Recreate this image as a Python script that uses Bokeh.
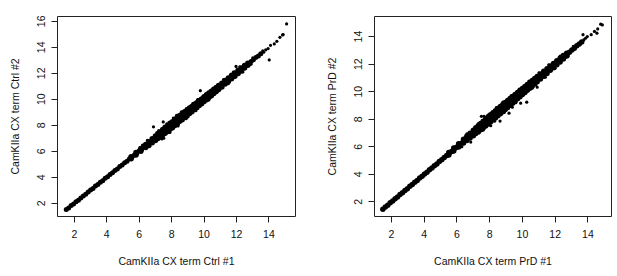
from bokeh.plotting import figure
from bokeh.layouts import row
from bokeh.models import Range1d, FixedTicker
from bokeh.embed import file_html
from bokeh.resources import INLINE

# ---------------- data ----------------
x_ticks_left = [2, 4, 6, 8, 10, 12, 14]
y_ticks_left = [2, 4, 6, 8, 10, 12, 14, 16]
x_ticks_right = [2, 4, 6, 8, 10, 12, 14]
y_ticks_right = [2, 4, 6, 8, 10, 12, 14]

xlabel_left = "CamKIIa CX term Ctrl #1"
ylabel_left = "CamKIIa CX term Ctrl #2"
xlabel_right = "CamKIIa CX term PrD #1"
ylabel_right = "CamKIIa CX term PrD #2"

# left panel: dense core of the cloud
ctrl_core_x = [1.50, 1.65, 1.80, 1.95, 2.10, 2.25, 2.40, 2.55, 2.70, 2.85, 3.00, 3.15, 3.30, 3.45, 3.60,
               3.75, 3.90, 4.05, 4.20, 4.35, 4.50, 4.65, 4.80, 4.95, 5.10, 5.25, 5.40, 5.55, 5.70, 5.85,
               6.00, 6.15, 6.30, 6.45, 6.60, 6.75, 6.90, 7.05, 7.20, 7.35, 7.50, 7.65, 7.80, 7.95, 8.10,
               8.25, 8.40, 8.55, 8.70, 8.85, 9.00, 9.15, 9.30, 9.45, 9.60, 9.75, 9.90, 10.05, 10.20, 10.35,
               10.50, 10.65, 10.80, 10.95, 11.10, 11.25, 11.40, 11.55, 11.70, 11.85, 12.00, 12.15, 12.30,
               12.45, 12.60, 12.75, 12.90, 13.05, 13.20, 13.35, 13.50]
ctrl_core_y = [1.52, 1.63, 1.82, 1.94, 2.12, 2.24, 2.41, 2.56, 2.69, 2.87, 3.01, 3.14, 3.32, 3.44, 3.62,
               3.74, 3.92, 4.04, 4.22, 4.34, 4.52, 4.63, 4.82, 4.94, 5.12, 5.23, 5.42, 5.54, 5.72, 5.83,
               6.03, 6.13, 6.32, 6.44, 6.63, 6.73, 6.93, 7.03, 7.23, 7.33, 7.53, 7.62, 7.84, 7.93, 8.13,
               8.22, 8.43, 8.53, 8.74, 8.83, 9.03, 9.12, 9.33, 9.43, 9.64, 9.73, 9.93, 10.03, 10.23, 10.33,
               10.53, 10.63, 10.82, 10.94, 11.12, 11.24, 11.42, 11.54, 11.72, 11.84, 12.02, 12.14, 12.32,
               12.44, 12.62, 12.74, 12.91, 13.04, 13.21, 13.34, 13.51]
# left panel: spread of the cloud around the diagonal
ctrl_spread_x = [5.5, 5.5, 5.8, 5.8, 6.1, 6.1, 6.4, 6.4, 6.6, 6.6, 6.8, 6.8, 7.0, 7.0, 7.15, 7.15,
                 7.3, 7.3, 7.45, 7.45, 7.6, 7.6, 7.75, 7.75, 7.9, 7.9, 8.05, 8.05, 8.2, 8.2, 8.35, 8.35,
                 8.5, 8.5, 8.65, 8.65, 8.8, 8.8, 8.95, 8.95, 9.1, 9.1, 9.25, 9.25, 9.4, 9.4, 9.55, 9.55,
                 9.7, 9.7, 9.85, 9.85, 10.0, 10.0, 10.15, 10.15, 10.3, 10.3, 10.45, 10.45, 10.6, 10.6,
                 10.75, 10.75, 10.9, 10.9, 11.1, 11.1, 11.3, 11.3, 11.5, 11.5, 11.7, 11.7, 11.9, 11.9,
                 12.1, 12.1, 12.3, 12.3, 12.5, 12.5, 12.7, 12.7]
ctrl_spread_y = [5.58, 5.42, 5.90, 5.71, 6.21, 6.00, 6.53, 6.28, 6.74, 6.45, 6.97, 6.66, 7.18, 6.83, 7.37, 6.99,
                 7.49, 7.10, 7.68, 7.27, 7.84, 7.39, 7.96, 7.53, 8.15, 7.70, 8.28, 7.81, 8.46, 7.99, 8.57, 8.12,
                 8.75, 8.30, 8.88, 8.43, 9.04, 8.59, 9.16, 8.72, 9.33, 8.90, 9.45, 9.04, 9.62, 9.21, 9.74, 9.35,
                 9.91, 9.52, 10.03, 9.66, 10.19, 9.83, 10.32, 9.97, 10.48, 10.14, 10.61, 10.28, 10.77, 10.45,
                 10.90, 10.59, 11.06, 10.76, 11.24, 10.95, 11.45, 11.17, 11.63, 11.36, 11.84, 11.58, 12.02, 11.77,
                 12.23, 11.99, 12.41, 12.18, 12.60, 12.40, 12.78, 12.61]
# left panel: ragged edge of the cloud
ctrl_edge_x = [7.2, 7.7, 8.1, 8.3, 8.6, 8.9, 9.3, 9.6, 10.1, 7.4, 7.9, 8.4, 8.9, 9.5, 10.3, 11.2, 11.8,
               11.5, 12.2, 6.5, 6.2, 12.4, 13.0, 12.9]
ctrl_edge_y = [7.60, 8.12, 8.55, 8.78, 9.05, 9.30, 9.68, 9.98, 10.42, 6.95, 7.45, 7.95, 8.50, 9.12, 9.95,
               11.52, 12.10, 11.20, 12.50, 6.85, 6.48, 12.10, 13.20, 12.70]
# left panel: sparse points and outliers
ctrl_out_x = [15.09, 14.88, 14.84, 14.68, 14.49, 14.33, 14.02, 13.80, 13.95, 14.10, 13.68, 13.62,
              9.77, 7.48, 6.88, 7.52, 11.97]
ctrl_out_y = [15.80, 14.98, 14.95, 14.77, 14.46, 14.26, 13.03, 13.80, 13.90, 14.15, 13.62, 13.72,
              10.66, 8.26, 7.88, 7.00, 12.53]

# right panel: dense core of the cloud
prd_core_x = [1.47, 1.62, 1.77, 1.92, 2.07, 2.22, 2.37, 2.52, 2.67, 2.82, 2.97, 3.12, 3.27, 3.42, 3.57,
              3.72, 3.87, 4.02, 4.17, 4.32, 4.47, 4.62, 4.77, 4.92, 5.07, 5.22, 5.37, 5.52, 5.67, 5.82,
              5.97, 6.12, 6.27, 6.42, 6.57, 6.72, 6.87, 7.02, 7.17, 7.32, 7.47, 7.62, 7.77, 7.92, 8.07,
              8.22, 8.37, 8.52, 8.67, 8.82, 8.97, 9.12, 9.27, 9.42, 9.57, 9.72, 9.87, 10.02, 10.17, 10.32,
              10.47, 10.62, 10.77, 10.92, 11.07, 11.22, 11.37, 11.52, 11.67, 11.82, 11.97, 12.12, 12.27,
              12.42, 12.57, 12.72, 12.87, 13.02, 13.17, 13.32, 13.47, 13.62]
prd_core_y = [1.47, 1.63, 1.76, 1.93, 2.06, 2.23, 2.36, 2.53, 2.66, 2.83, 2.96, 3.13, 3.26, 3.43, 3.56,
              3.73, 3.86, 4.03, 4.16, 4.33, 4.46, 4.63, 4.76, 4.93, 5.06, 5.23, 5.36, 5.53, 5.66, 5.83,
              5.96, 6.13, 6.26, 6.43, 6.56, 6.73, 6.86, 7.03, 7.16, 7.33, 7.46, 7.63, 7.76, 7.93, 8.06,
              8.23, 8.36, 8.53, 8.66, 8.83, 8.96, 9.13, 9.26, 9.43, 9.56, 9.73, 9.86, 10.03, 10.16, 10.33,
              10.46, 10.63, 10.76, 10.93, 11.06, 11.23, 11.36, 11.53, 11.66, 11.83, 11.96, 12.13, 12.26,
              12.43, 12.56, 12.73, 12.86, 13.03, 13.16, 13.33, 13.46, 13.60]
# right panel: spread of the cloud around the diagonal
prd_spread_x = [5.5, 5.5, 5.8, 5.8, 6.1, 6.1, 6.4, 6.4, 6.6, 6.6, 6.8, 6.8, 7.0, 7.0, 7.15, 7.15,
                7.3, 7.3, 7.45, 7.45, 7.6, 7.6, 7.75, 7.75, 7.9, 7.9, 8.05, 8.05, 8.2, 8.2, 8.35, 8.35,
                8.5, 8.5, 8.65, 8.65, 8.8, 8.8, 8.95, 8.95, 9.1, 9.1, 9.25, 9.25, 9.4, 9.4, 9.55, 9.55,
                9.7, 9.7, 9.85, 9.85, 10.0, 10.0, 10.15, 10.15, 10.3, 10.3, 10.45, 10.45, 10.6, 10.6,
                10.75, 10.75, 10.9, 10.9, 11.1, 11.1, 11.3, 11.3, 11.5, 11.5, 11.7, 11.7, 11.9, 11.9,
                12.1, 12.1, 12.3, 12.3, 12.5, 12.5, 12.7, 12.7]
prd_spread_y = [5.59, 5.41, 5.91, 5.70, 6.22, 5.99, 6.54, 6.27, 6.76, 6.45, 6.98, 6.64, 7.20, 6.81, 7.39, 6.97,
                7.52, 7.08, 7.70, 7.24, 7.86, 7.37, 8.00, 7.51, 8.17, 7.66, 8.32, 7.80, 8.48, 7.96, 8.62, 8.10,
                8.78, 8.26, 8.92, 8.40, 9.08, 8.55, 9.21, 8.70, 9.36, 8.86, 9.50, 9.01, 9.66, 9.17, 9.79, 9.32,
                9.95, 9.48, 10.08, 9.63, 10.24, 9.79, 10.37, 9.94, 10.53, 10.10, 10.66, 10.25, 10.81, 10.41,
                10.95, 10.56, 11.10, 10.72, 11.28, 10.92, 11.48, 11.13, 11.66, 11.33, 11.86, 11.55, 12.04, 11.74,
                12.24, 11.96, 12.43, 12.16, 12.62, 12.37, 12.80, 12.59]
# right panel: ragged edge of the cloud
prd_edge_x = [7.3, 7.9, 8.4, 8.8, 9.3, 9.8, 10.4, 11.0, 11.6, 7.6, 8.3, 8.9, 9.6, 10.6, 11.4, 6.6, 6.3,
              12.3, 12.0, 13.1, 12.8]
prd_edge_y = [7.70, 8.30, 8.85, 9.25, 9.70, 10.20, 10.78, 11.38, 11.95, 7.20, 7.85, 8.50, 9.20, 10.25, 11.05,
              6.95, 6.00, 12.60, 11.70, 13.30, 12.60]
# right panel: sparse points and outliers
prd_out_x = [14.88, 14.78, 14.60, 14.55, 14.40, 14.20, 13.96, 13.75, 13.70, 13.85,
             9.89, 10.26, 9.18, 8.63, 8.06, 7.49, 7.65, 10.90, 6.84, 9.38]
prd_out_y = [14.85, 14.90, 14.56, 14.25, 14.38, 14.14, 14.00, 13.76, 14.14, 13.88,
             9.17, 9.24, 8.44, 7.87, 7.53, 8.21, 8.21, 10.33, 6.34, 8.88]

FONT = "Liberation Sans"


def style(p, xticks, yticks):
    p.outline_line_color = "#222222"
    p.outline_line_width = 1
    p.xgrid.visible = False
    p.ygrid.visible = False
    p.background_fill_color = "white"
    p.border_fill_color = "white"
    p.xaxis.ticker = FixedTicker(ticks=xticks)
    p.yaxis.ticker = FixedTicker(ticks=yticks)
    for ax in (p.xaxis[0], p.yaxis[0]):
        ax.axis_line_color = None
        ax.major_tick_out = 6
        ax.major_tick_in = 0
        ax.minor_tick_line_color = None
        ax.major_tick_line_color = "#222222"
        ax.major_label_text_font = FONT
        ax.major_label_text_font_size = "10.5px"
        ax.major_label_text_color = "#111111"
        ax.axis_label_text_font = FONT
        ax.axis_label_text_font_size = "10.5px"
        ax.axis_label_text_font_style = "normal"
        ax.axis_label_text_color = "#111111"
    p.xaxis.major_label_standoff = 7
    p.xaxis.axis_label_standoff = 14
    p.yaxis.major_label_standoff = 6
    p.yaxis.axis_label_standoff = 14
    p.yaxis.major_label_orientation = "vertical"


p1 = figure(width=308, height=276, output_backend="svg", toolbar_location=None,
            x_range=Range1d(0.96, 15.64), y_range=Range1d(0.98, 16.37),
            min_border_left=57, min_border_right=13, min_border_top=15, min_border_bottom=60,
            x_axis_label=xlabel_left, y_axis_label=ylabel_left)
style(p1, x_ticks_left, y_ticks_left)
p1.scatter(ctrl_core_x, ctrl_core_y, size=5, color="black", line_color=None)
p1.scatter(ctrl_spread_x, ctrl_spread_y, size=5.5, color="black", line_color=None)
p1.scatter(ctrl_edge_x, ctrl_edge_y, size=3, color="black", line_color=None)
p1.scatter(ctrl_out_x, ctrl_out_y, size=3.2, color="black", line_color=None)

p2 = figure(width=309, height=276, output_backend="svg", toolbar_location=None,
            x_range=Range1d(0.96, 15.44), y_range=Range1d(0.94, 15.46),
            min_border_left=66, min_border_right=6, min_border_top=16, min_border_bottom=60,
            x_axis_label=xlabel_right, y_axis_label=ylabel_right)
style(p2, x_ticks_right, y_ticks_right)
p2.scatter(prd_core_x, prd_core_y, size=5.5, color="black", line_color=None)
p2.scatter(prd_spread_x, prd_spread_y, size=5.5, color="black", line_color=None)
p2.scatter(prd_edge_x, prd_edge_y, size=3, color="black", line_color=None)
p2.scatter(prd_out_x, prd_out_y, size=3.2, color="black", line_color=None)

layout = row(p1, p2)
open("out.html", "w").write(file_html(layout, INLINE))
